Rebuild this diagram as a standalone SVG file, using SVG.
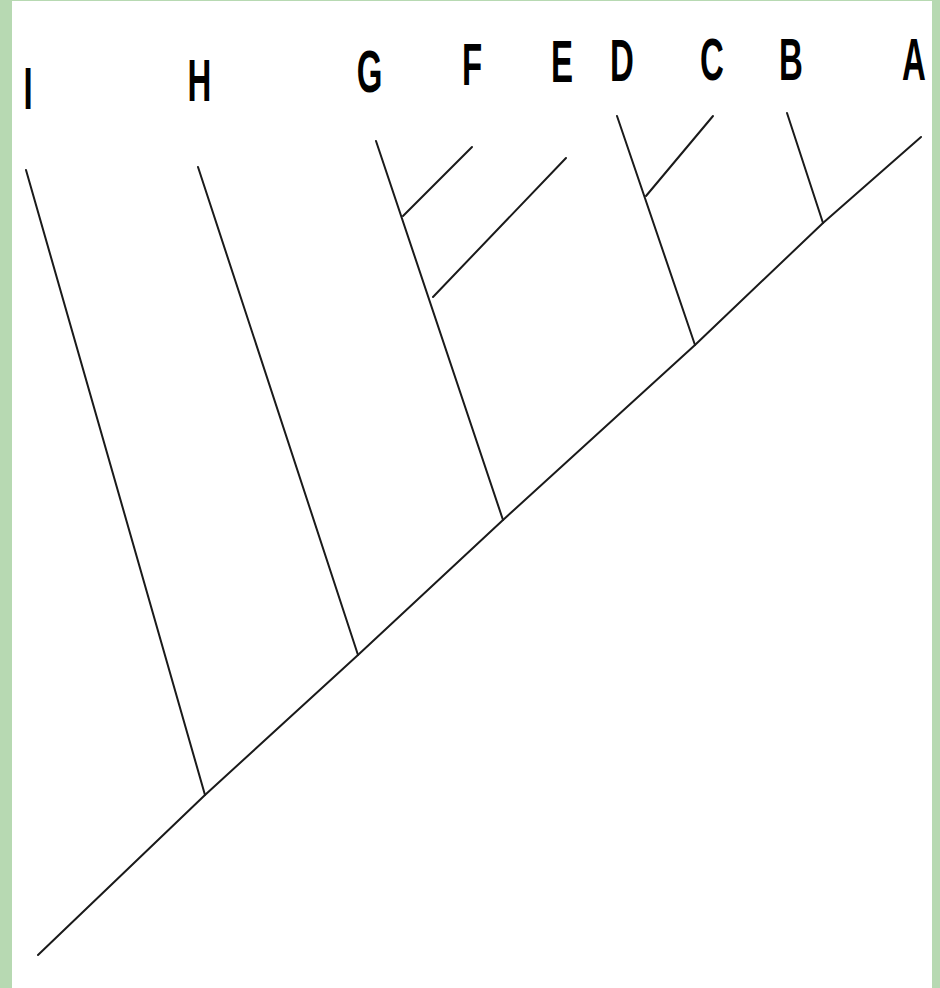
<svg xmlns="http://www.w3.org/2000/svg" width="940" height="988" viewBox="0 0 940 988">
  <style>
    .lbl { font-family: "Liberation Sans", Arial, sans-serif; font-weight: bold; font-size: 60px; fill: #000; text-anchor: middle; }
    .br { fill: none; stroke: #1a1a1a; stroke-width: 2; stroke-linecap: round; stroke-linejoin: round; }
  </style>
  <rect x="0" y="0" width="940" height="988" fill="#b7d9b2"/>
  <rect x="12" y="1" width="920" height="987" fill="#ffffff"/>

  <g id="connectors">
    <polyline class="br" points="38,955 205,795 358,655 503,520 695,345 823,223 921,137"/>
    <line class="br" x1="26" y1="170" x2="205" y2="795"/>
    <line class="br" x1="198" y1="167" x2="358" y2="655"/>
    <line class="br" x1="376" y1="141" x2="503" y2="520"/>
    <line class="br" x1="403" y1="216" x2="472" y2="147"/>
    <line class="br" x1="433" y1="297" x2="566" y2="158"/>
    <line class="br" x1="617" y1="116" x2="695" y2="345"/>
    <line class="br" x1="646" y1="196" x2="713" y2="116"/>
    <line class="br" x1="787" y1="113" x2="823" y2="223"/>
  </g>

  <g id="node-I"><text class="lbl" transform="translate(28,109) scale(0.55,1)">I</text></g>
  <g id="node-H"><text class="lbl" transform="translate(199.5,101) scale(0.55,1)">H</text></g>
  <g id="node-G"><text class="lbl" transform="translate(369.5,92) scale(0.55,1)">G</text></g>
  <g id="node-F"><text class="lbl" transform="translate(472,85) scale(0.55,1)">F</text></g>
  <g id="node-E"><text class="lbl" transform="translate(562,82) scale(0.55,1)">E</text></g>
  <g id="node-D"><text class="lbl" transform="translate(622,81) scale(0.55,1)">D</text></g>
  <g id="node-C"><text class="lbl" transform="translate(712,80) scale(0.55,1)">C</text></g>
  <g id="node-B"><text class="lbl" transform="translate(791,80) scale(0.55,1)">B</text></g>
  <g id="node-A"><text class="lbl" transform="translate(914,80) scale(0.55,1)">A</text></g>
</svg>
